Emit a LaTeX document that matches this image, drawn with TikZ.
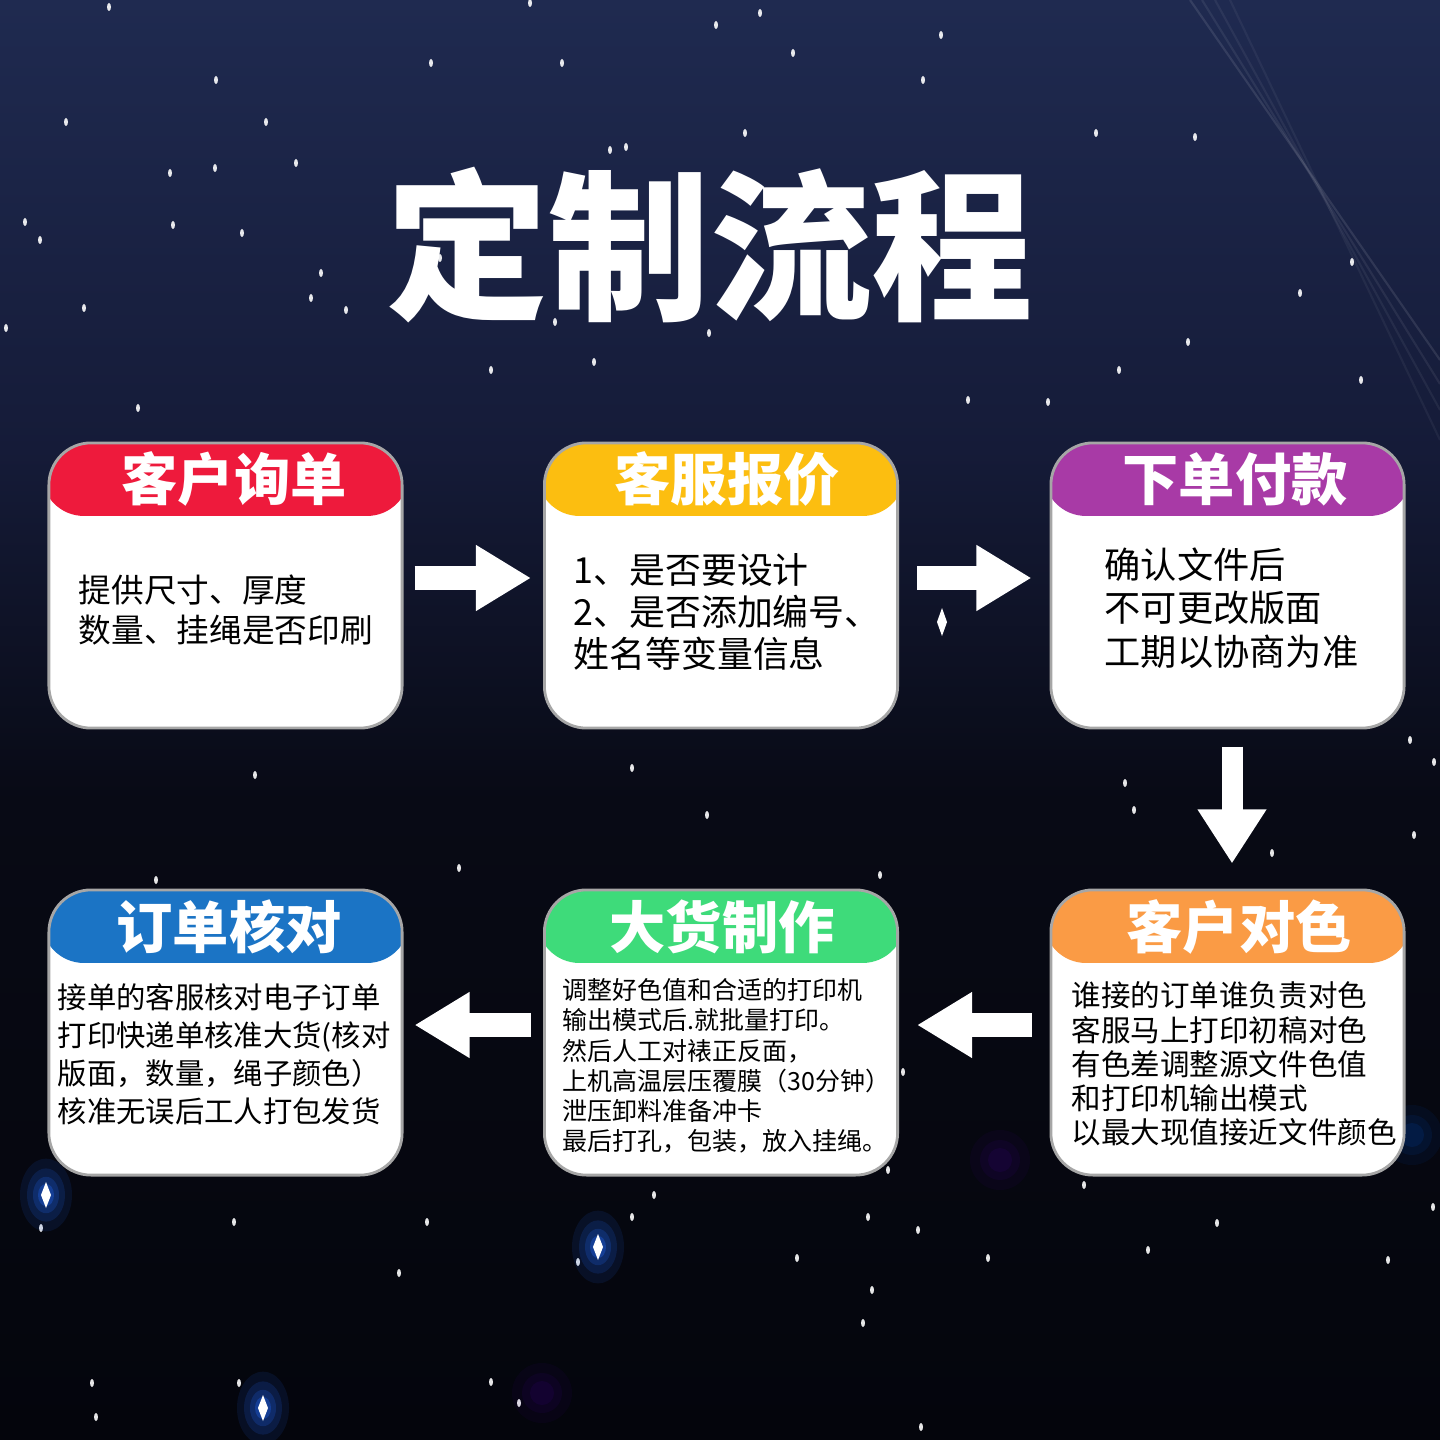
\documentclass[tikz,border=0pt]{standalone}
\usepackage{fontspec}
\newfontfamily\cjk{Noto Sans CJK SC}
\usetikzlibrary{arrows.meta,calc}
\definecolor{bgA}{HTML}{1F2A50}
\definecolor{bgB}{HTML}{151B38}
\definecolor{bgC}{HTML}{080A15}
\definecolor{bgD}{HTML}{04050C}
\definecolor{hred}{HTML}{EE1A3C}
\definecolor{hyel}{HTML}{FCBE10}
\definecolor{hpur}{HTML}{A83AA6}
\definecolor{hblu}{HTML}{1B74C5}
\definecolor{hgrn}{HTML}{3EDB7A}
\definecolor{hora}{HTML}{FA9B45}
\definecolor{glow}{HTML}{1E5BD8}
\newcommand\sstar[3]{\fill[white,opacity=#3] (#1,#2) ellipse [x radius=0.02cm, y radius=0.04cm];}
\newcommand\bspark[2]{%
  \foreach \rr/\oo in {0.26/0.12,0.19/0.18,0.13/0.25,0.08/0.4}{\fill[glow,opacity=\oo] (#1,#2) ellipse [x radius=\rr cm, y radius=1.4*\rr cm];}
  \fill[white] (#1,#2) ++(0,-13) -- ++(5,13) -- ++(-5,13) -- ++(-5,-13) -- cycle;}
\tikzset{
  card/.style={draw=black!35, line width=0.8pt, fill=white, rounded corners=0.42cm,
    minimum width=3.53cm, minimum height=2.85cm, inner sep=0pt,
    path picture={\fill[#1] ([yshift=2pt,xshift=-2pt]path picture bounding box.north west)
      rectangle ([yshift=-0.73cm,xshift=2pt]path picture bounding box.north east);}},
  hdr/.style={font=\cjk\bfseries\fontsize{16}{18}\selectfont, text=white, inner sep=0pt},
  txt/.style={anchor=west, align=left, inner sep=0pt, text=black},
  hbar/.style={draw=white, line width=0.24cm, -{Triangle[length=0.55cm,width=0.62cm]}},
  vbar/.style={draw=white, line width=0.21cm, -{Triangle[length=0.54cm,width=0.65cm]}},
}
\begin{document}
\begin{tikzpicture}[x=0.01cm,y=-0.01cm]
% background
\useasboundingbox (0,0) rectangle (1440,1440);
\shade[top color=bgA, bottom color=bgB] (0,0) rectangle (1440,450);
\shade[top color=bgB, bottom color=bgC] (0,450) rectangle (1440,800);
\shade[top color=bgC, bottom color=bgD] (0,800) rectangle (1440,1440);
% faint light streaks
\foreach \dx/\op in {0/0.10,12/0.07,25/0.06,40/0.05}{
  \draw[white,opacity=\op,line width=0.6pt] (1190+\dx,0) -- (1440,360+\dx*2);}
% stars
\foreach \sx/\sy in {109/7,216/80,66/122,266/122,431/63,562/63,170/173,215/168,296/163,25/222,40/240,173/225,242/233,321/273,311/298,84/308,346/310,6/328,138/408,530/3,716/25,626/147,610/150,555/322,709/333,594/362,491/370,440/258,
760/13,941/35,793/53,923/80,745/133,1096/133,1195/137,1352/262,1188/342,1119/370,1361/380,968/400,1048/402,1300/293,
255/775,632/768,707/815,459/868,880/875,1125/783,1134/810,1410/740,1434/762,1414/835,1272/853,156/880,
903/1072,888/1170,41/1228,234/1222,427/1222,654/1195,632/1217,578/1262,399/1273,868/1217,918/1230,797/1258,988/1258,1084/1185,1148/1250,1217/1223,1388/1260,872/1290,863/1323,92/1383,96/1417,239/1383,491/1382,519/1403,921/1427,1433/1207}
  {\sstar{\sx}{\sy}{0.9}}
\fill[white] (942,608) -- (947,622) -- (942,636) -- (937,622) -- cycle;
% violet glows
\foreach \rr/\oo in {0.30/0.06,0.2/0.08,0.12/0.1}{
  \fill[violet!60!blue,opacity=\oo] (1000,1160) circle (\rr cm);
  \fill[violet!60!blue,opacity=\oo] (542,1393) circle (\rr cm);
  \fill[blue!60!cyan,opacity=\oo] (1412,1135) circle (\rr cm);}
\bspark{46}{1195}
\bspark{598}{1247}
\bspark{263}{1408}
% title
\node[font=\cjk\bfseries\fontsize{46}{50}\selectfont, text=white, inner sep=0pt] (title) at (710,245) {定制流程};
% cards
\node[card=hred] (b1) at (225.5,585.5) {};
\node[card=hyel] (b2) at (721,585.5) {};
\node[card=hpur] (b3) at (1227.5,585.5) {};
\node[card=hblu] (b4) at (225.5,1032.5) {};
\node[card=hgrn] (b5) at (721,1032.5) {};
\node[card=hora] (b6) at (1227.5,1032.5) {};
% headers
\node[hdr] (h1) at (234,479) {客户询单};
\node[hdr] (h2) at (727,479) {客服报价};
\node[hdr] (h3) at (1235,479) {下单付款};
\node[hdr] (h4) at (229,927) {订单核对};
\node[hdr] (h5) at (722,927) {大货制作};
\node[hdr] (h6) at (1239,927) {客户对色};
% body texts
\node[txt, font=\cjk\fontsize{9.3}{11.4}\selectfont] (t1) at (78,610) {提供尺寸、厚度\\数量、挂绳是否印刷};
\node[txt, font=\cjk\fontsize{10.2}{12}\selectfont] (t2) at (573,612) {1、是否要设计\\2、是否添加编号、\\姓名等变量信息};
\node[txt, font=\cjk\fontsize{10.3}{12.3}\selectfont] (t3) at (1104,608) {确认文件后\\不可更改版面\\工期以协商为准};
\node[txt, font=\cjk\fontsize{8.35}{10.8}\selectfont] (t4) at (57,1054) {接单的客服核对电子订单\\打印快递单核准大货(核对\\版面，数量，绳子颜色）\\核准无误后工人打包发货};
\node[txt, font=\cjk\fontsize{7.1}{8.6}\selectfont] (t5) at (562,1066) {调整好色值和合适的打印机\\输出模式后.就批量打印。\\然后人工对裱正反面，\\上机高温层压覆膜（30分钟）\\泄压卸料准备冲卡\\最后打孔，包装，放入挂绳。};
\node[txt, font=\cjk\fontsize{8.4}{9.7}\selectfont] (t6) at (1071,1064) {谁接的订单谁负责对色\\客服马上打印初稿对色\\有色差调整源文件色值\\和打印机输出模式\\以最大现值接近文件颜色};
% connectors
\draw[hbar] ([xshift=0.11cm,yshift=0.075cm]b1.east) -- ([xshift=-0.12cm,yshift=0.075cm]b2.west);
\draw[hbar] ([xshift=0.18cm,yshift=0.075cm]b2.east) -- ([xshift=-0.18cm,yshift=0.075cm]b3.west);
\draw[vbar] ([xshift=0.045cm,yshift=-0.17cm]b3.south) -- ([xshift=0.045cm,yshift=0.25cm]b6.north);
\draw[hbar] ([xshift=-0.18cm,yshift=0.075cm]b6.west) -- ([xshift=0.18cm,yshift=0.075cm]b5.east);
\draw[hbar] ([xshift=-0.12cm,yshift=0.075cm]b5.west) -- ([xshift=0.11cm,yshift=0.075cm]b4.east);
\end{tikzpicture}
\end{document}
